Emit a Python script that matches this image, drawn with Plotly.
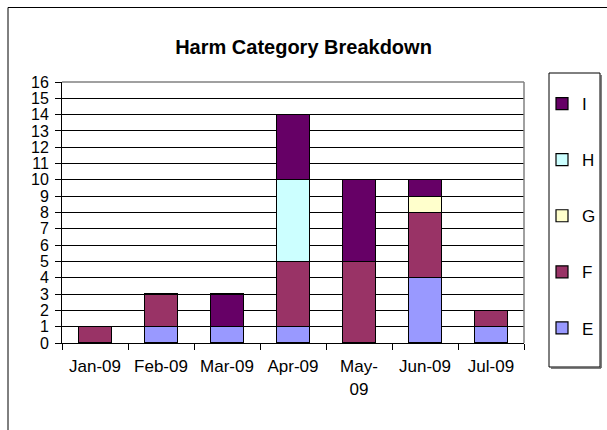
import plotly.graph_objects as go

months = ["Jan-09", "Feb-09", "Mar-09", "Apr-09", "May-09", "Jun-09", "Jul-09"]
month_labels = ["Jan-09", "Feb-09", "Mar-09", "Apr-09", "May-<br>09", "Jun-09", "Jul-09"]

cat_e = [0, 1, 1, 1, 0, 4, 1]
cat_f = [1, 2, 0, 4, 5, 4, 1]
cat_g = [0, 0, 0, 0, 0, 1, 0]
cat_h = [0, 0, 0, 5, 0, 0, 0]
cat_i = [0, 0, 2, 4, 5, 1, 0]

series = [
    ("E", cat_e, "#9999FF"),
    ("F", cat_f, "#993366"),
    ("G", cat_g, "#FFFFCC"),
    ("H", cat_h, "#CCFFFF"),
    ("I", cat_i, "#660066"),
]

FONT = "Liberation Sans, Arial, sans-serif"

fig = go.Figure()
for k, (name, vals, color) in enumerate(series):
    fig.add_trace(go.Bar(
        x=months, y=vals, name=name, legendgroup=name,
        legendrank=len(series) - k,
        marker=dict(color=color, line=dict(color="black", width=1.2)),
    ))

# plot area geometry in pixels
W, H = 607, 430
L, R, T, B = 62, 524, 82, 343
pw, ph = R - L, B - T

def px_x(p):
    return (p - L) / pw

def px_y(p):
    return (B - p) / ph

shapes = [
    # outer chart frame (runs off the right and bottom edges)
    dict(type="rect", xref="paper", yref="paper",
         x0=px_x(8), x1=px_x(620), y0=px_y(440), y1=px_y(7.5),
         line=dict(color="black", width=1), fillcolor="rgba(0,0,0,0)", layer="below"),
    # plot area top/right edge in grey
    dict(type="line", xref="paper", yref="paper", x0=0, x1=1, y0=1, y1=1,
         line=dict(color="#808080", width=1.5), layer="above"),
    dict(type="line", xref="paper", yref="paper", x0=1, x1=1, y0=0, y1=1,
         line=dict(color="#808080", width=1.5), layer="above"),
    # legend frame with a light drop shadow
    dict(type="rect", xref="paper", yref="paper",
         x0=px_x(549), x1=px_x(600), y0=px_y(367), y1=px_y(73),
         line=dict(color="black", width=1), fillcolor="white", layer="below"),
    dict(type="line", xref="paper", yref="paper",
         x0=px_x(601), x1=px_x(601), y0=px_y(368), y1=px_y(75),
         line=dict(color="#555555", width=1.5), layer="below"),
    dict(type="line", xref="paper", yref="paper",
         x0=px_x(551), x1=px_x(601), y0=px_y(368), y1=px_y(368),
         line=dict(color="#555555", width=1.5), layer="below"),
]

fig.update_layout(
    width=W, height=H,
    margin=dict(l=L, r=W - R, t=T, b=H - B, autoexpand=False),
    paper_bgcolor="white", plot_bgcolor="white",
    barmode="stack", bargap=0.5,
    font=dict(family=FONT, size=17, color="black"),
    title=dict(text="<b>Harm Category Breakdown</b>", x=0.5, xanchor="center",
               y=1 - 47 / H, yanchor="middle",
               font=dict(family=FONT, size=20, color="black")),
    xaxis=dict(
        type="category", tickmode="array", tickvals=months, ticktext=month_labels,
        showline=True, linecolor="black", linewidth=1,
        ticks="outside", tickson="boundaries", ticklen=6, tickcolor="black",
        showgrid=False, tickfont=dict(size=17), ticklabelstandoff=8,
        fixedrange=True,
    ),
    yaxis=dict(
        range=[0, 16], dtick=1, tick0=0,
        showline=True, linecolor="black", linewidth=1,
        ticks="outside", ticklen=6, tickcolor="black",
        showgrid=True, gridcolor="black", gridwidth=1,
        zeroline=False, tickfont=dict(size=16), ticklabelstandoff=3,
        fixedrange=True,
    ),
    legend=dict(
        x=px_x(542), xanchor="left", y=px_y(86), yanchor="top",
        traceorder="grouped", tracegroupgap=31,
        bgcolor="rgba(0,0,0,0)", borderwidth=0,
        font=dict(size=17), itemwidth=30,
    ),
    shapes=shapes,
    showlegend=True,
)

fig.write_html("out.html")
